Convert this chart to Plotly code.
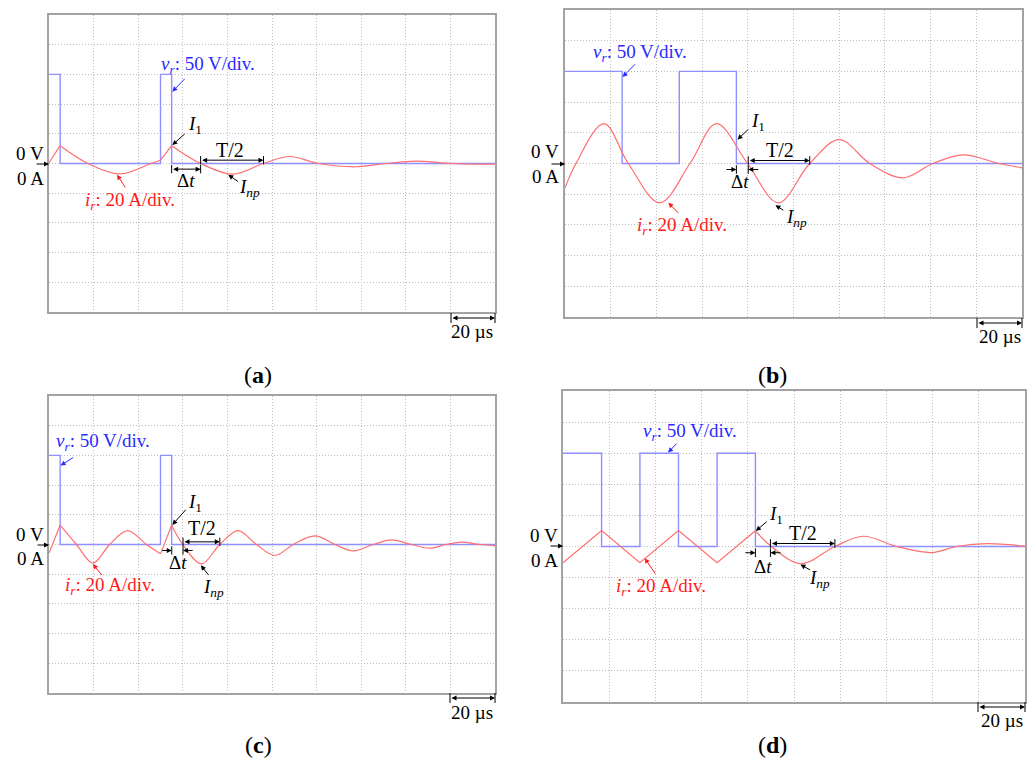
import plotly.graph_objects as go

W, H = 1036, 769
FONT = "Liberation Serif"

# ---------------- data (time in µs, voltage in V, current in A) ----------------
# Panel (a)
va_t = [0, 5, 5, 50, 50, 55, 55, 200]
va_v = [150, 150, 0, 0, 150, 150, 0, 0]
ia_lin_t = [0, 5, None, 50, 55]
ia_lin_i = [0.5, 12, None, 2.2, 12]
ia_spl_t = [5, 17.5, 31.7, 45.8, 50, None, 55, 68, 82.4, 96.2, 107.8, 121, 137.7, 151, 164.6, 180, 192, 200]
ia_spl_i = [12, 0, -7, 0, 2.2, None, 12, 0, -7.2, 0, 4.7, 0, -2.2, 0, 1.6, 0, -0.5, -0.4]

# Panel (b)
vb_t = [0, 25, 25, 50, 50, 75, 75, 200]
vb_v = [150, 150, 0, 0, 150, 150, 0, 0]
ib_lin_t = []
ib_lin_i = []
ib_spl_t = [0, 4.8, 17, 27.7, 41.5, 54.7, 66.3, 79.9, 93.3, 107.1, 120, 133.4, 148, 161, 174.2, 190, 200]
ib_spl_i = [-15.9, 0, 26, 0, -25.6, 0, 26, 0, -25.6, 0, 15.6, 0, -9.3, 0, 5.6, 0, -2.8]

# Panel (c)
vc_t = [0, 5, 5, 50, 50, 55, 55, 200]
vc_v = [150, 150, 0, 0, 150, 150, 0, 0]
ic_lin_t = [0, 5, None, 50, 55]
ic_lin_i = [-5.8, 13, None, -6.3, 13]
ic_spl_t = [5, 12.3, 19.7, 27.2, 35.2, 43.7, 50, None, 55, 60, 68.4, 76.6, 84.8, 93, 101.3,
            109.5, 119.2, 128.2, 136.4, 145.4, 153.6, 162.6, 170.8, 178, 185, 193, 200]
ic_spl_i = [13, 0, -12.5, 0, 9.4, 0, -6.3, None, 13, 0, -13, 0, 9.4, 0, -7.4,
            0, 5.8, 0, -4.3, 0, 3.1, 0, -2.5, 0, 1.6, 0, -0.7]

# Panel (d)
vd_t = [0, 16.7, 16.7, 33.3, 33.3, 50, 50, 66.7, 66.7, 83.3, 83.3, 200]
vd_v = [150, 150, 0, 0, 150, 150, 0, 0, 150, 150, 0, 0]
id_lin_t = [0, 16.7, 33.3, 50, 66.7, 83.3]
id_lin_i = [-10.5, 10.3, -10.5, 10.3, -10.5, 10.1]
id_spl_t = [83.3, 90.2, 103, 117.7, 130, 144.4, 159.6, 170.4, 183.4, 200]
id_spl_i = [10.1, 0, -11.1, 0, 6.6, 0, -3.9, 0, 1.9, 0.2]

panel_letters = ["a", "b", "c", "d"]

# ---------------- layout helpers ----------------
def px2paper_x(px):
    return px / W

def px2paper_y(py):
    return 1 - py / H

# pixel boxes of the 4 scope screens: (x0, x1), (y0, y1)
boxes = [((49, 495), (15, 312)), ((565, 1022), (10, 317)),
         ((49, 495), (396, 693)), ((563, 1025), (391, 702))]

panels = [
    (va_t, va_v, ia_lin_t, ia_lin_i, ia_spl_t, ia_spl_i),
    (vb_t, vb_v, ib_lin_t, ib_lin_i, ib_spl_t, ib_spl_i),
    (vc_t, vc_v, ic_lin_t, ic_lin_i, ic_spl_t, ic_spl_i),
    (vd_t, vd_v, id_lin_t, id_lin_i, id_spl_t, id_spl_i),
]

V_COL = "#8f8fff"
I_COL = "#ff6f6f"
V_TXT = "#2b2bff"
I_TXT = "#ff1a1a"
GRID = "#bdbdbd"
FRAME = "#a3a3a3"
TS = 19  # label font size

fig = go.Figure()
layout = dict(width=W, height=H, autosize=False, margin=dict(l=0, r=0, t=0, b=0),
              paper_bgcolor="white", plot_bgcolor="white", showlegend=False,
              font=dict(family=FONT, size=TS, color="black"))

def sfx(n):
    return "" if n == 1 else str(n)

for k in range(4):
    n = k + 1
    (x0, x1), (y0, y1) = boxes[k]
    xd = [px2paper_x(x0), px2paper_x(x1)]
    yd = [px2paper_y(y1), px2paper_y(y0)]
    common = dict(showgrid=True, gridcolor=GRID, griddash="1px,2px", gridwidth=1,
                  showticklabels=False, ticks="", zeroline=False, showline=True,
                  linecolor=FRAME, linewidth=1.5, mirror=True, fixedrange=True)
    layout["xaxis" + sfx(n)] = dict(domain=xd, range=[0, 200], dtick=20, tick0=0,
                                    anchor="y" + sfx(n), **common)
    layout["yaxis" + sfx(n)] = dict(domain=yd, range=[-250, 250], dtick=50, tick0=0,
                                    anchor="x" + sfx(n), **common)
    layout["yaxis" + str(n + 4)] = dict(range=[-100, 100], overlaying="y" + sfx(n),
                                        anchor="x" + sfx(n), visible=False, fixedrange=True)
    vt, vv, lt, li, st, si = panels[k]
    xa, ya, yi = "x" + sfx(n), "y" + sfx(n), "y" + str(n + 4)
    fig.add_trace(go.Scatter(x=vt, y=vv, xaxis=xa, yaxis=ya, mode="lines",
                             line=dict(color=V_COL, width=1.4), hoverinfo="skip"))
    if lt:
        fig.add_trace(go.Scatter(x=lt, y=li, xaxis=xa, yaxis=yi, mode="lines",
                                 line=dict(color=I_COL, width=1.2), hoverinfo="skip",
                                 connectgaps=False))
    fig.add_trace(go.Scatter(x=st, y=si, xaxis=xa, yaxis=yi, mode="lines",
                             line=dict(color=I_COL, width=1.2, shape="spline", smoothing=1.0),
                             hoverinfo="skip", connectgaps=False))

fig.update_layout(**layout)

annotations = []
shapes = []

def text(n, x, y, s, color="black", size=TS):
    annotations.append(dict(xref="x" + sfx(n), yref="y" + sfx(n), x=x, y=y, text=s,
                            showarrow=False, font=dict(family=FONT, size=size, color=color),
                            xanchor="center", yanchor="middle"))

def arrow(n, tip, tail, color="black", both=False):
    annotations.append(dict(xref="x" + sfx(n), yref="y" + sfx(n), x=tip[0], y=tip[1],
                            axref="x" + sfx(n), ayref="y" + sfx(n), ax=tail[0], ay=tail[1],
                            text="", showarrow=True, arrowhead=2, arrowsize=1, arrowwidth=1,
                            arrowcolor=color, standoff=0, startstandoff=0,
                            arrowside="end+start" if both else "end", startarrowhead=2))

def tick(n, x, ya, yb):
    shapes.append(dict(type="line", xref="x" + sfx(n), yref="y" + sfx(n), x0=x, x1=x,
                       y0=ya, y1=yb, line=dict(color="black", width=1)))

# per-panel annotation positions (µs, V)
ann = [
    dict(vr=(71.2, 166), vr_tail=(61.5, 145), vr_tip=(55.3, 121),
         ir=(36.1, -63), ir_tail=(34.7, -43), ir_tip=(30.5, -19),
         i1=(65.3, 64.5), i1_tail=(61.5, 52), i1_tip=(55.3, 31),
         inp=(89.9, -41.5), inp_tail=(85.4, -32), inp_tip=(80.4, -19),
         dt=(55, 68, -9.5), dt_inner=True, dt_txt=(61.5, -28),
         th=(68, 96.2, 5.6), th_txt=(81, 23)),
    dict(vr=(32.8, 180), vr_tail=(31.3, 164), vr_tip=(25.2, 141),
         ir=(51, -101), ir_tail=(50.3, -83), ir_tip=(45.2, -64),
         i1=(84.5, 67), i1_tail=(80.9, 58), i1_tip=(75.5, 39),
         inp=(101.3, -88.5), inp_tail=(96.2, -77.6), inp_tip=(92.1, -68),
         dt=(75, 80.2, -9.8), dt_inner=False, dt_txt=(76.5, -30),
         th=(80.2, 107.1, 4.9), th_txt=(94, 22.8)),
    dict(vr=(24.2, 172), vr_tail=(11.5, 148), vr_tip=(5.2, 133),
         ir=(27.2, -70.5), ir_tail=(24.2, -54), ir_tip=(19.7, -33),
         i1=(65.4, 69.4), i1_tail=(61.9, 61), i1_tip=(55.3, 33),
         inp=(73.6, -73.3), inp_tail=(72.1, -54), inp_tip=(68.1, -35),
         dt=(55.05, 60.1, -10), dt_inner=False, dt_txt=(57.9, -30),
         th=(60.1, 76.6, 4.5), th_txt=(68.4, 27.4)),
    dict(vr=(54.9, 184), vr_tail=(49.8, 168), vr_tip=(45.5, 151),
         ir=(42.6, -65), ir_tail=(40.4, -46), ir_tip=(35.4, -19),
         i1=(92.4, 50.4), i1_tail=(88.8, 42), i1_tip=(83.5, 25),
         inp=(111.2, -53), inp_tail=(107.6, -39), inp_tip=(102.8, -29),
         dt=(83.3, 89.8, -10), dt_inner=False, dt_txt=(86.6, -32.7),
         th=(89.8, 117.7, 4.8), th_txt=(104, 21)),
]

for k, a in enumerate(ann):
    n = k + 1
    text(n, *a["vr"], "<i>v<sub>r</sub></i>: 50 V/div.", color=V_TXT)
    arrow(n, a["vr_tip"], a["vr_tail"], color=V_TXT)
    text(n, *a["ir"], "<i>i<sub>r</sub></i>: 20 A/div.", color=I_TXT)
    arrow(n, a["ir_tip"], a["ir_tail"], color=I_TXT)
    text(n, *a["i1"], "<i>I</i><sub>1</sub>")
    arrow(n, a["i1_tip"], a["i1_tail"])
    text(n, *a["inp"], "<i>I<sub>np</sub></i>")
    arrow(n, a["inp_tip"], a["inp_tail"])
    d0, d1, dy = a["dt"]
    if a["dt_inner"]:
        arrow(n, (d1, dy), (d0, dy), both=True)
    else:
        arrow(n, (d0, dy), (d0 - 5, dy))
        arrow(n, (d1, dy), (d1 + 5, dy))
    tick(n, d0, dy + 7, dy - 7)
    tick(n, d1, dy + 7, dy - 7)
    text(n, *a["dt_txt"], "Δ<i>t</i>")
    t0, t1, ty = a["th"]
    arrow(n, (t1, ty), (t0, ty), both=True)
    tick(n, t0, ty + 7, ty - 7)
    tick(n, t1, ty + 7, ty - 7)
    text(n, *a["th_txt"], "T/2", size=20)

# outside labels (pixel positions converted to paper)
zero_lbl = [(30, 153, 178, 35, 49, 164), (545, 151, 177, 550, 565, 164),
            (30, 534, 558, 36, 49, 545), (544, 535, 560, 549, 563, 546)]
scale_bar = [(451, 495, 318, 472, 331), (977, 1022, 323, 1000, 336),
             (450, 495, 698, 472, 712), (978, 1025, 707, 1002, 720)]
letter_pos = [(258, 375), (772, 375), (258, 745), (772, 745)]

for k in range(4):
    cx, yv, ya, ax0, ax1, ay = zero_lbl[k]
    for s, yy in (("0 V", yv), ("0 A", ya)):
        annotations.append(dict(xref="paper", yref="paper", x=px2paper_x(cx), y=px2paper_y(yy),
                                text=s, showarrow=False, xanchor="center", yanchor="middle",
                                font=dict(family=FONT, size=TS, color="black")))
    annotations.append(dict(xref="paper", yref="paper", x=px2paper_x(ax1), y=px2paper_y(ay),
                            ax=-(ax1 - ax0), ay=0, text="", showarrow=True, arrowhead=2,
                            arrowsize=1, arrowwidth=1, arrowcolor="black", standoff=0))
    sx0, sx1, sy, tx, tyy = scale_bar[k]
    annotations.append(dict(xref="paper", yref="paper", x=px2paper_x(sx1), y=px2paper_y(sy),
                            ax=-(sx1 - sx0), ay=0, text="", showarrow=True, arrowhead=2,
                            arrowside="end+start", startarrowhead=2,
                            arrowsize=1, arrowwidth=1, arrowcolor="black", standoff=0,
                            startstandoff=0))
    for xx in (sx0, sx1):
        shapes.append(dict(type="line", xref="paper", yref="paper",
                           x0=px2paper_x(xx), x1=px2paper_x(xx),
                           y0=px2paper_y(sy - 5), y1=px2paper_y(sy + 5),
                           line=dict(color="black", width=1)))
    annotations.append(dict(xref="paper", yref="paper", x=px2paper_x(tx), y=px2paper_y(tyy),
                            text="20 µs", showarrow=False, xanchor="center", yanchor="middle",
                            font=dict(family=FONT, size=TS, color="black")))
    lx, ly = letter_pos[k]
    annotations.append(dict(xref="paper", yref="paper", x=px2paper_x(lx), y=px2paper_y(ly),
                            text="(<b>%s</b>)" % panel_letters[k], showarrow=False,
                            xanchor="center", yanchor="middle",
                            font=dict(family=FONT, size=24, color="black")))

fig.update_layout(annotations=annotations, shapes=shapes)
fig.write_html("out.html")
